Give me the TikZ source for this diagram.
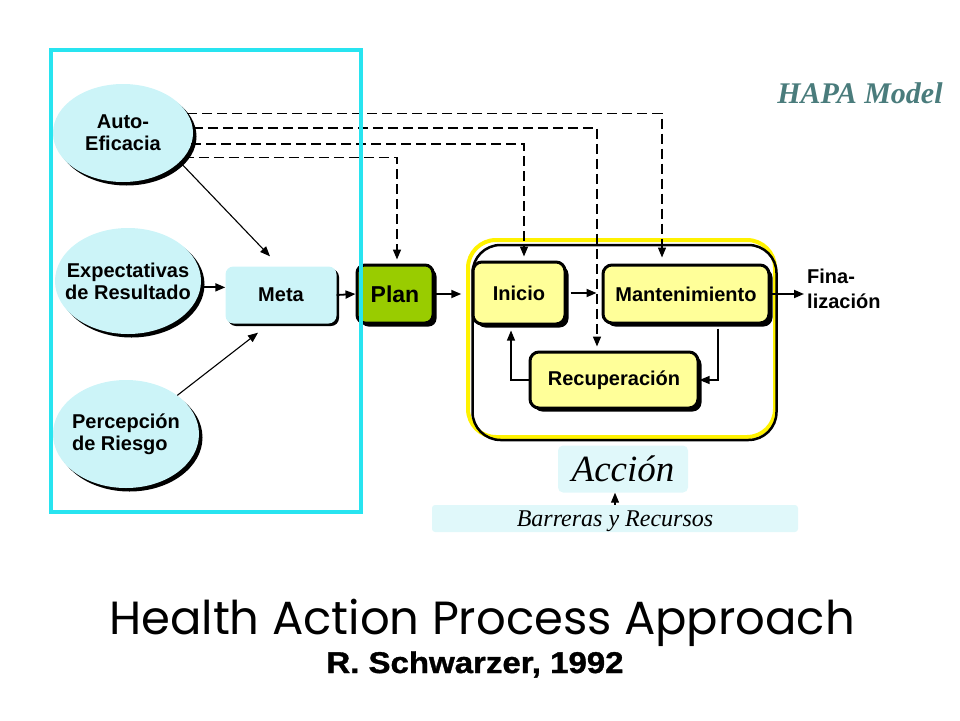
\documentclass[tikz,border=0pt]{standalone}
\usepackage{fontspec}
\newfontfamily\arialfont{Liberation Sans}
\newfontfamily\heavyfont[FakeStretch=1.1,FakeBold=1.2]{Liberation Sans}
\newfontfamily\timesfont{Liberation Serif}
\newfontfamily\gothfont{Poppins}
\usetikzlibrary{arrows.meta,shadows,shapes.geometric}
\definecolor{framecyan}{RGB}{40,228,240}
\definecolor{paleblue}{RGB}{204,244,248}
\definecolor{mistblue}{RGB}{224,248,250}
\definecolor{plangreen}{RGB}{153,204,0}
\definecolor{stageyellow}{RGB}{255,255,153}
\definecolor{hapateal}{RGB}{74,124,124}

\begin{document}
\begin{tikzpicture}[x=1pt,y=-1pt,
    lbl/.style={font=\arialfont\bfseries\fontsize{20}{22}\selectfont,align=center,inner sep=0pt},
    blackshadow/.style={drop shadow={shadow xshift=3.5pt,shadow yshift=-3.5pt,fill=black,opacity=1}},
    belief/.style={lbl,ellipse,inner xsep=-14pt,fill=paleblue,blackshadow},
    goal/.style={lbl,rectangle,rounded corners=8pt,fill=paleblue,
      drop shadow={shadow xshift=2.5pt,shadow yshift=-2.5pt,fill=black,opacity=1}},
    stage/.style={lbl,rectangle,rounded corners=9pt,draw,line width=3pt,fill=stageyellow,blackshadow},
    note/.style={rectangle,rounded corners=5pt,fill=mistblue,inner sep=0pt},
    conn/.style={-{Triangle[length=10pt,width=8pt]},line width=1.8pt},
    thin/.style={conn,line width=1.1pt},
    dashln/.style={conn,line width=1.5pt,dash pattern=on 10pt off 5pt,shorten >=4pt},
   ]
   \useasboundingbox (0,0) rectangle (960,720);
   % action frame
   \draw[yellow,line width=4pt,rounded corners=28pt] (468,240) rectangle (775,437);
   \node[draw,line width=2.5pt,rounded corners=28pt,minimum width=304pt,minimum height=195pt] (act) at (624.5,342.5) {};

   % motivation phase
   \node[belief,minimum width=140pt,minimum height=98pt] (auto) at (123,133) {Auto-\\Eficacia};
   \node[belief,minimum width=146pt,minimum height=106pt] (expect) at (128,281) {Expectativas\\de Resultado};
   \node[belief,align=left,minimum width=146pt,minimum height=108pt] (riesgo) at (126,434) {Percepción\\de Riesgo};
   \node[goal,minimum width=111pt,minimum height=57pt] (meta) at (281,295) {Meta};
   \node[stage,fill=plangreen,rounded corners=8pt,minimum width=76pt,minimum height=58pt,
     font=\arialfont\bfseries\fontsize{23}{25}\selectfont] (plan) at (395,294) {Plan};

   % volition phase
   \node[stage,minimum width=92pt,minimum height=62pt] (inicio) at (519,293) {Inicio};
   \node[stage,minimum width=166pt,minimum height=58pt] (mant) at (686,294) {Mantenimiento};
   \node[stage,minimum width=168pt,minimum height=56pt] (recu) at (614,380) {Recuperación};
   \node[lbl,align=left,anchor=west,font=\arialfont\bfseries\fontsize{20}{25}\selectfont] (fin) at (807,289) {Fina-\\lización};

   \node[note,minimum width=130pt,minimum height=47pt,font=\timesfont\itshape\fontsize{37}{40}\selectfont] (accion) at (623,469) {Acción};
   \node[note,rounded corners=3pt,minimum width=366pt,minimum height=27pt,text depth=0pt,
     font=\timesfont\itshape\fontsize{24}{26}\selectfont] (barreras) at (615,518.5) {Barreras y Recursos};

   \node[anchor=base,text=hapateal,font=\timesfont\bfseries\itshape\fontsize{30}{32}\selectfont] (hapa) at (860,103) {HAPA Model};
   \node[anchor=base,inner sep=0pt,font=\gothfont\fontsize{46.5}{50}\selectfont] (title) at (482,634) {Health Action Process Approach};
   \node[anchor=base,inner sep=0pt,font=\heavyfont\bfseries\fontsize{30}{32}\selectfont] (author) at (475,673) {R. Schwarzer, 1992};

   % connectors
   \draw[thin] (auto.-27) -- ([shift={(-11pt,10pt)}]meta.north);
   \draw[conn] (expect.-5) -- (meta.west |- expect.-5);
   \draw[thin] (riesgo.37) -- ([shift={(-23pt,-9pt)}]meta.south);
   \draw[conn] (meta.east) -- (plan.west);
   \draw[conn,shorten >=10pt] (plan.east) -- (act.west |- plan.east);
   \draw[conn,shorten <=4pt,shorten >=5pt] (inicio.east) -- (mant.west |- inicio.east);
   \draw[conn,shorten >=3pt] (mant.east) -- (mant.east -| fin.west);
   \draw[thin,shorten <=4pt] ([xshift=32pt]mant.south) |- (recu.east);
   \draw[thin,shorten >=5pt] (recu.west) -| ([xshift=-8pt]inicio.south);
   \draw[thin] (barreras.north) -- (accion.south -| barreras.north);

   \draw[dashln,shorten >=6pt] (auto.17) -| ([xshift=-24pt]mant.north);
   \draw[dashln] (auto.4) -| ([xshift=-17pt]recu.north);
   \draw[dashln] (auto.-9) -| ([xshift=5pt]inicio.north);
   \draw[dashln] (auto.-22) -| ([xshift=2pt]plan.north);

   % motivation frame
   \draw[framecyan,line width=4pt] (51,50) rectangle (361,512);
\end{tikzpicture}
\end{document}
